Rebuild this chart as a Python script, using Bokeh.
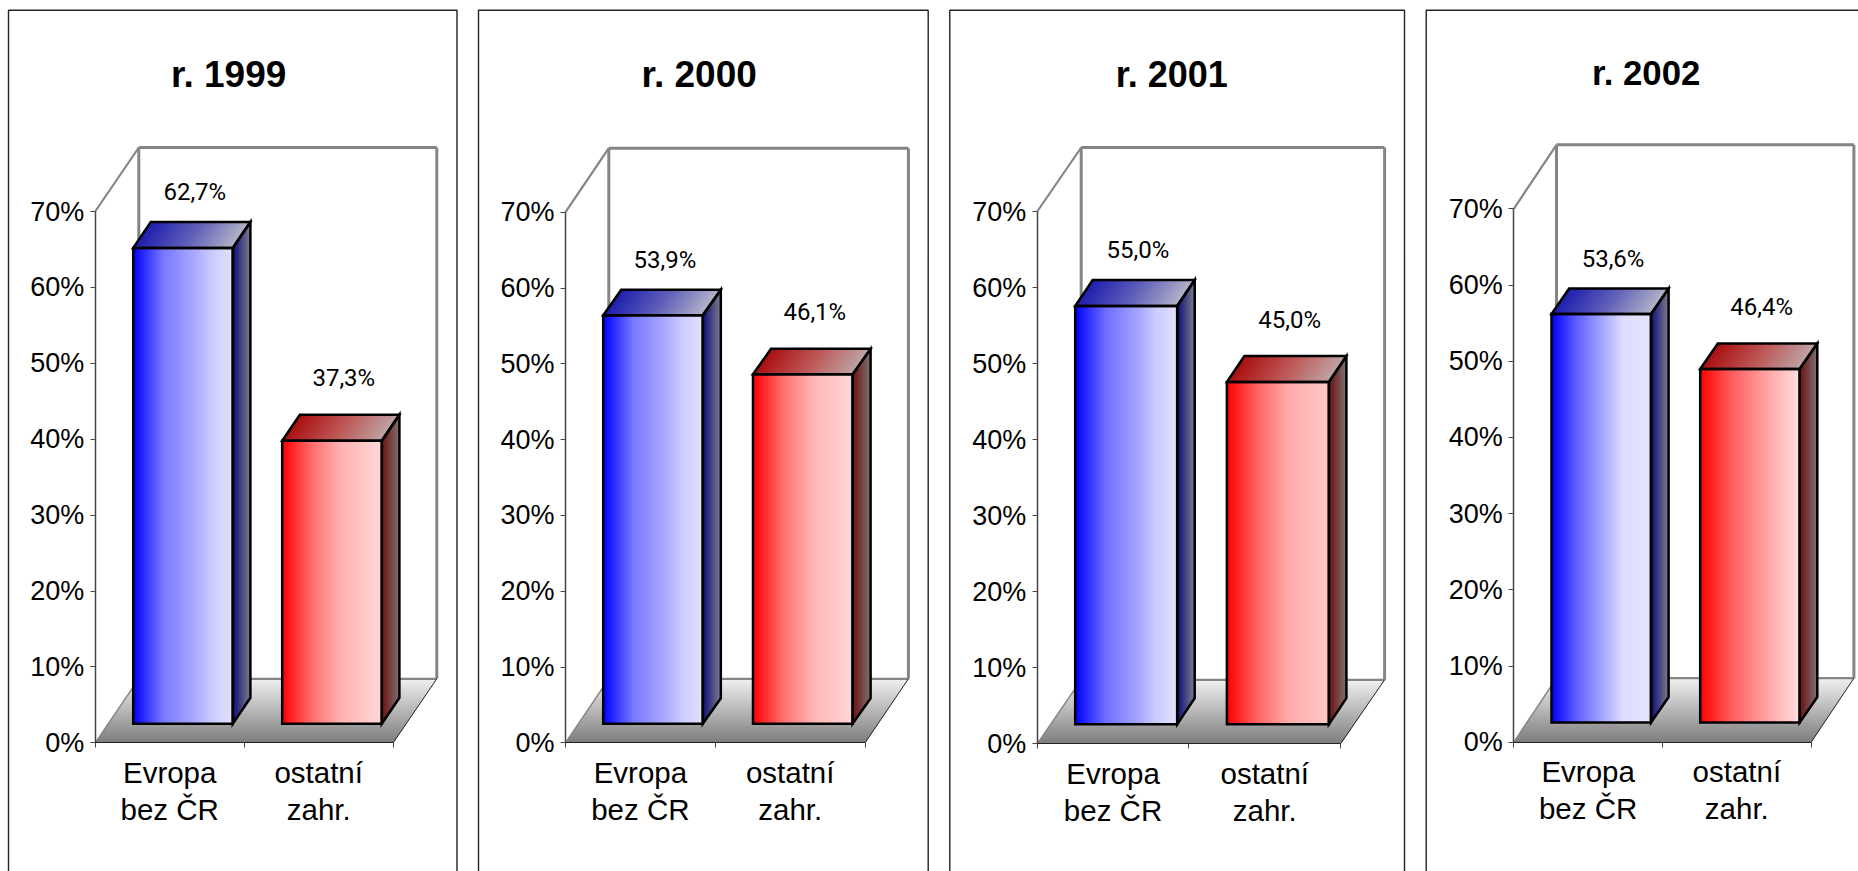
from bokeh.embed import file_html
from bokeh.resources import INLINE
from bokeh.core.properties import value
from bokeh.layouts import row
from bokeh.models import FixedTicker, LinearAxis, Range1d
from bokeh.plotting import figure

# ---- data -------------------------------------------------------------
years = ["r. 1999", "r. 2000", "r. 2001", "r. 2002"]
evropa = [62.7, 53.9, 55.0, 53.6]
ostatni = [37.3, 46.1, 45.0, 46.4]
evropa_labels = ["62,7%", "53,9%", "55,0%", "53,6%"]
ostatni_labels = ["37,3%", "46,1%", "45,0%", "46,4%"]
categories = ["Evropa\nbez ČR", "ostatní\nzahr."]
y_ticks = [0, 10, 20, 30, 40, 50, 60, 70]
y_tick_labels = ["0%", "10%", "20%", "30%", "40%", "50%", "60%", "70%"]

# ---- layout of each panel, in page pixels -------------------------------
PAGE_TOP, PAGE_BOTTOM = 0, 871
fig_edges = [0, 467, 938, 1415, 1858]
panels = [
    dict(L=8.0, R=456.5, T=9.7, ax=94.7, cat=149.0, y0=742.3, y70=211.0, wdx=43.6, wdy=64.0,
         bar_off=38.0, bar_w=99.6, lift=19.0, bdx=17.6, bdy=26.0, title_x=228.2, title_y=74.0, title_size=37),
    dict(L=478.0, R=927.7, T=9.7, ax=565.0, cat=149.8, y0=742.3, y70=211.7, wdx=43.3, wdy=64.0,
         bar_off=37.7, bar_w=99.6, lift=19.0, bdx=18.0, bdy=25.5, title_x=698.7, title_y=74.0, title_size=37),
    dict(L=949.3, R=1404.0, T=9.7, ax=1036.7, cat=151.7, y0=743.3, y70=211.0, wdx=44.0, wdy=64.0,
         bar_off=38.0, bar_w=102.0, lift=19.6, bdx=17.5, bdy=26.0, title_x=1171.3, title_y=74.0, title_size=36),
    dict(L=1425.7, R=None, T=9.7, ax=1513.3, cat=148.7, y0=741.7, y70=208.3, wdx=42.7, wdy=64.0,
         bar_off=37.7, bar_w=99.5, lift=19.7, bdx=17.6, bdy=25.5, title_x=1645.7, title_y=72.0, title_size=34.8),
]

# ---- colours of the gradients -------------------------------------------
BLUE_A = [(0, (0, 0, 255)), (0.3, (120, 120, 255)), (0.62, (170, 170, 255)), (0.8, (205, 205, 255)), (1, (225, 225, 255))]
BLUE_B = [(0, (0, 0, 255)), (0.3, (110, 110, 255)), (0.62, (165, 165, 255)), (0.8, (205, 205, 255)), (1, (225, 225, 255))]
BLUE_C = [(0, (0, 0, 255)), (0.25, (95, 95, 255)), (0.6, (190, 190, 255)), (0.72, (222, 222, 255)), (1, (228, 228, 255))]
RED_A = [(0, (255, 0, 0)), (0.3, (255, 110, 110)), (0.6, (255, 180, 180)), (1, (255, 215, 215))]
RED_B = [(0, (255, 0, 0)), (0.3, (255, 100, 100)), (0.6, (255, 170, 170)), (1, (255, 200, 200))]
RED_C = [(0, (255, 0, 0)), (0.3, (255, 90, 90)), (0.6, (255, 150, 150)), (1, (255, 225, 225))]
BLUE_FRONTS = [BLUE_A, BLUE_A, BLUE_B, BLUE_C]
RED_FRONTS = [RED_A, RED_A, RED_B, RED_C]
BLUE_TOP = [(0, (30, 30, 175)), (0.5, (95, 95, 185)), (1, (180, 180, 200))]
BLUE_SIDE = [(0, (15, 15, 120)), (1, (125, 125, 140))]
RED_TOP = [(0, (170, 15, 15)), (0.5, (190, 85, 85)), (1, (190, 165, 165))]
RED_SIDE = [(0, (110, 15, 15)), (1, (125, 115, 115))]
FLOOR = [(0, (125, 125, 125)), (1, (240, 240, 240))]
WALL_GREY = "#858585"


def mix(stops, t):
    for (t0, c0), (t1, c1) in zip(stops, stops[1:]):
        if t <= t1:
            f = (t - t0) / (t1 - t0)
            r, g, b = [round(a + (d - a) * f) for a, d in zip(c0, c1)]
            return f"#{r:02x}{g:02x}{b:02x}"
    r, g, b = stops[-1][1]
    return f"#{r:02x}{g:02x}{b:02x}"


def panel_figure(k, labels):
    g = panels[k]
    cat, ax = g["cat"], g["ax"]
    unit = (g["y0"] - g["y70"]) / 70.0
    X = lambda px: (px - ax) / cat
    Y = lambda px: (g["y0"] - px) / unit
    DX = lambda px: px / cat
    DY = lambda px: px / unit

    p = figure(width=fig_edges[k + 1] - fig_edges[k], height=PAGE_BOTTOM - PAGE_TOP,
               x_range=Range1d(X(fig_edges[k]), X(fig_edges[k + 1])),
               y_range=Range1d(Y(PAGE_BOTTOM), Y(PAGE_TOP)),
               x_axis_type=None, y_axis_type=None, toolbar_location=None,
               output_backend="svg", min_border=0, outline_line_color=None)
    p.background_fill_color = "white"

    # panel frame
    xs = [X(g["L"]), X(g["L"])]
    ys = [Y(PAGE_BOTTOM), Y(g["T"])]
    if g["R"] is None:
        xs += [X(fig_edges[k + 1])]
        ys += [Y(g["T"])]
    else:
        xs += [X(g["R"]), X(g["R"])]
        ys += [Y(g["T"]), Y(PAGE_BOTTOM)]
    p.line(xs, ys, line_color="#222222", line_width=1.4)

    wx, wy = DX(g["wdx"]), DY(g["wdy"])
    top = y_ticks[-1]

    # floor, as horizontal slices from the front edge to the wall
    n = 40
    fx, fy, fc = [], [], []
    for j in range(n):
        a, b = j / n, min(1, (j + 1.6) / n)
        fx.append([a * wx, 2 + a * wx, 2 + b * wx, b * wx])
        fy.append([a * wy, a * wy, b * wy, b * wy])
        fc.append(mix(FLOOR, (j + 0.5) / n))
    p.patches(fx, fy, fill_color=fc, line_color=None)

    # walls
    p.line([0, wx], [top, top + wy], line_color=WALL_GREY, line_width=2.2)
    p.line([wx, 2 + wx], [top + wy, top + wy], line_color=WALL_GREY, line_width=3)
    p.line([wx, wx], [wy, top + wy], line_color=WALL_GREY, line_width=3)
    p.line([2 + wx, 2 + wx], [wy, top + wy], line_color=WALL_GREY, line_width=3)
    p.line([wx, 2 + wx], [wy, wy], line_color=WALL_GREY, line_width=2.2)
    p.line([0, wx], [0, wy], line_color=WALL_GREY, line_width=1.5)
    p.line([2, 2 + wx], [0, wy], line_color="#222222", line_width=1)

    # bars
    lift = DY(g["lift"])
    bw, bx, by = DX(g["bar_w"]), DX(g["bdx"]), DY(g["bdy"])
    off = DX(g["bar_off"])
    vals = [evropa[k], ostatni[k]]
    schemes = [(BLUE_FRONTS[k], BLUE_TOP, BLUE_SIDE), (RED_FRONTS[k], RED_TOP, RED_SIDE)]
    label_gap = [29.5, 36.5]
    m = 48
    for i, v in enumerate(vals):
        front, topc, side = schemes[i]
        x0 = i + off
        y0 = lift
        y1 = lift + v
        sx, sy, sc = [], [], []
        # front face
        for j in range(m):
            a, b = x0 + bw * j / m, x0 + bw * min(1, (j + 1.7) / m)
            sx.append([a, b, b, a]); sy.append([y0, y0, y1, y1]); sc.append(mix(front, (j + 0.5) / m))
        # top face
        for j in range(m):
            a, b = x0 + bw * j / m, x0 + bw * min(1, (j + 1.7) / m)
            sx.append([a, b, b + bx, a + bx]); sy.append([y1, y1, y1 + by, y1 + by]); sc.append(mix(topc, (j + 0.5) / m))
        # right side face
        ms = 14
        for j in range(ms):
            a, b = j / ms, min(1, (j + 1.7) / ms)
            xa, xb = x0 + bw + a * bx, x0 + bw + b * bx
            sx.append([xa, xb, xb, xa])
            sy.append([y0 + a * by, y0 + b * by, y1 + b * by, y1 + a * by])
            sc.append(mix(side, (j + 0.5) / ms))
        p.patches(sx, sy, fill_color=sc, line_color=None)
        # outlines
        ox = [[x0, x0 + bw, x0 + bw, x0],
              [x0, x0 + bw, x0 + bw + bx, x0 + bx],
              [x0 + bw, x0 + bw + bx, x0 + bw + bx, x0 + bw]]
        oy = [[y0, y0, y1, y1],
              [y1, y1, y1 + by, y1 + by],
              [y0, y0 + by, y1 + by, y1]]
        p.patches(ox, oy, fill_color=None, line_color="black", line_width=2.5, line_join="miter")
        # value label
        p.text([x0 + bw / 2 + bx / 2 + DX(3)], [y1 + by], text=[labels[i]],
               text_font=value("Roboto"), text_font_size="24px", text_color="black",
               text_align="center", text_baseline="middle", y_offset=-label_gap[i])

    # title
    p.text([X(g["title_x"])], [Y(g["title_y"])], text=[years[k]],
           text_font=value("Liberation Sans"), text_font_style="bold",
           text_font_size=f'{g["title_size"]}px', text_color="black",
           text_align="center", text_baseline="middle")

    # axes
    yaxis = LinearAxis(ticker=FixedTicker(ticks=y_ticks),
                       major_label_overrides=dict(zip(y_ticks, y_tick_labels)),
                       fixed_location=0, bounds=(0, top))
    yaxis.axis_line_color = "#444444"
    yaxis.axis_line_width = 1.5
    yaxis.major_tick_line_color = "#444444"
    yaxis.major_tick_in = 0
    yaxis.major_tick_out = 5
    yaxis.minor_tick_line_color = None
    yaxis.major_label_standoff = 6
    yaxis.major_label_text_font = "Liberation Sans"
    yaxis.major_label_text_font_size = "27px"
    yaxis.major_label_text_color = "black"
    p.add_layout(yaxis, "left")

    xaxis = LinearAxis(ticker=FixedTicker(ticks=[0, 1, 2]), fixed_location=0, bounds=(0, 2),
                       major_label_text_font_size="0px")
    xaxis.axis_line_color = "#222222"
    xaxis.axis_line_width = 1
    xaxis.major_tick_line_color = "#444444"
    xaxis.major_tick_in = 0
    xaxis.major_tick_out = 5
    xaxis.minor_tick_line_color = None
    xaxis.major_label_overrides = {0: "", 1: "", 2: ""}
    p.add_layout(xaxis, "below")

    centers = [0.5, 1.5]
    labaxis = LinearAxis(ticker=FixedTicker(ticks=centers),
                         major_label_overrides=dict(zip(centers, categories)),
                         fixed_location=0)
    labaxis.axis_line_color = None
    labaxis.major_tick_line_color = None
    labaxis.minor_tick_line_color = None
    labaxis.major_label_standoff = 7
    labaxis.major_label_text_font = "Liberation Sans"
    labaxis.major_label_text_font_size = "29.5px"
    labaxis.major_label_text_color = "black"
    labaxis.major_label_text_line_height = 1.13
    p.add_layout(labaxis, "below")
    return p


figs = [panel_figure(k, (evropa_labels[k], ostatni_labels[k])) for k in range(4)]
page = row(*figs, spacing=0, margin=0)
open("out.html", "w").write(file_html(page, INLINE))
